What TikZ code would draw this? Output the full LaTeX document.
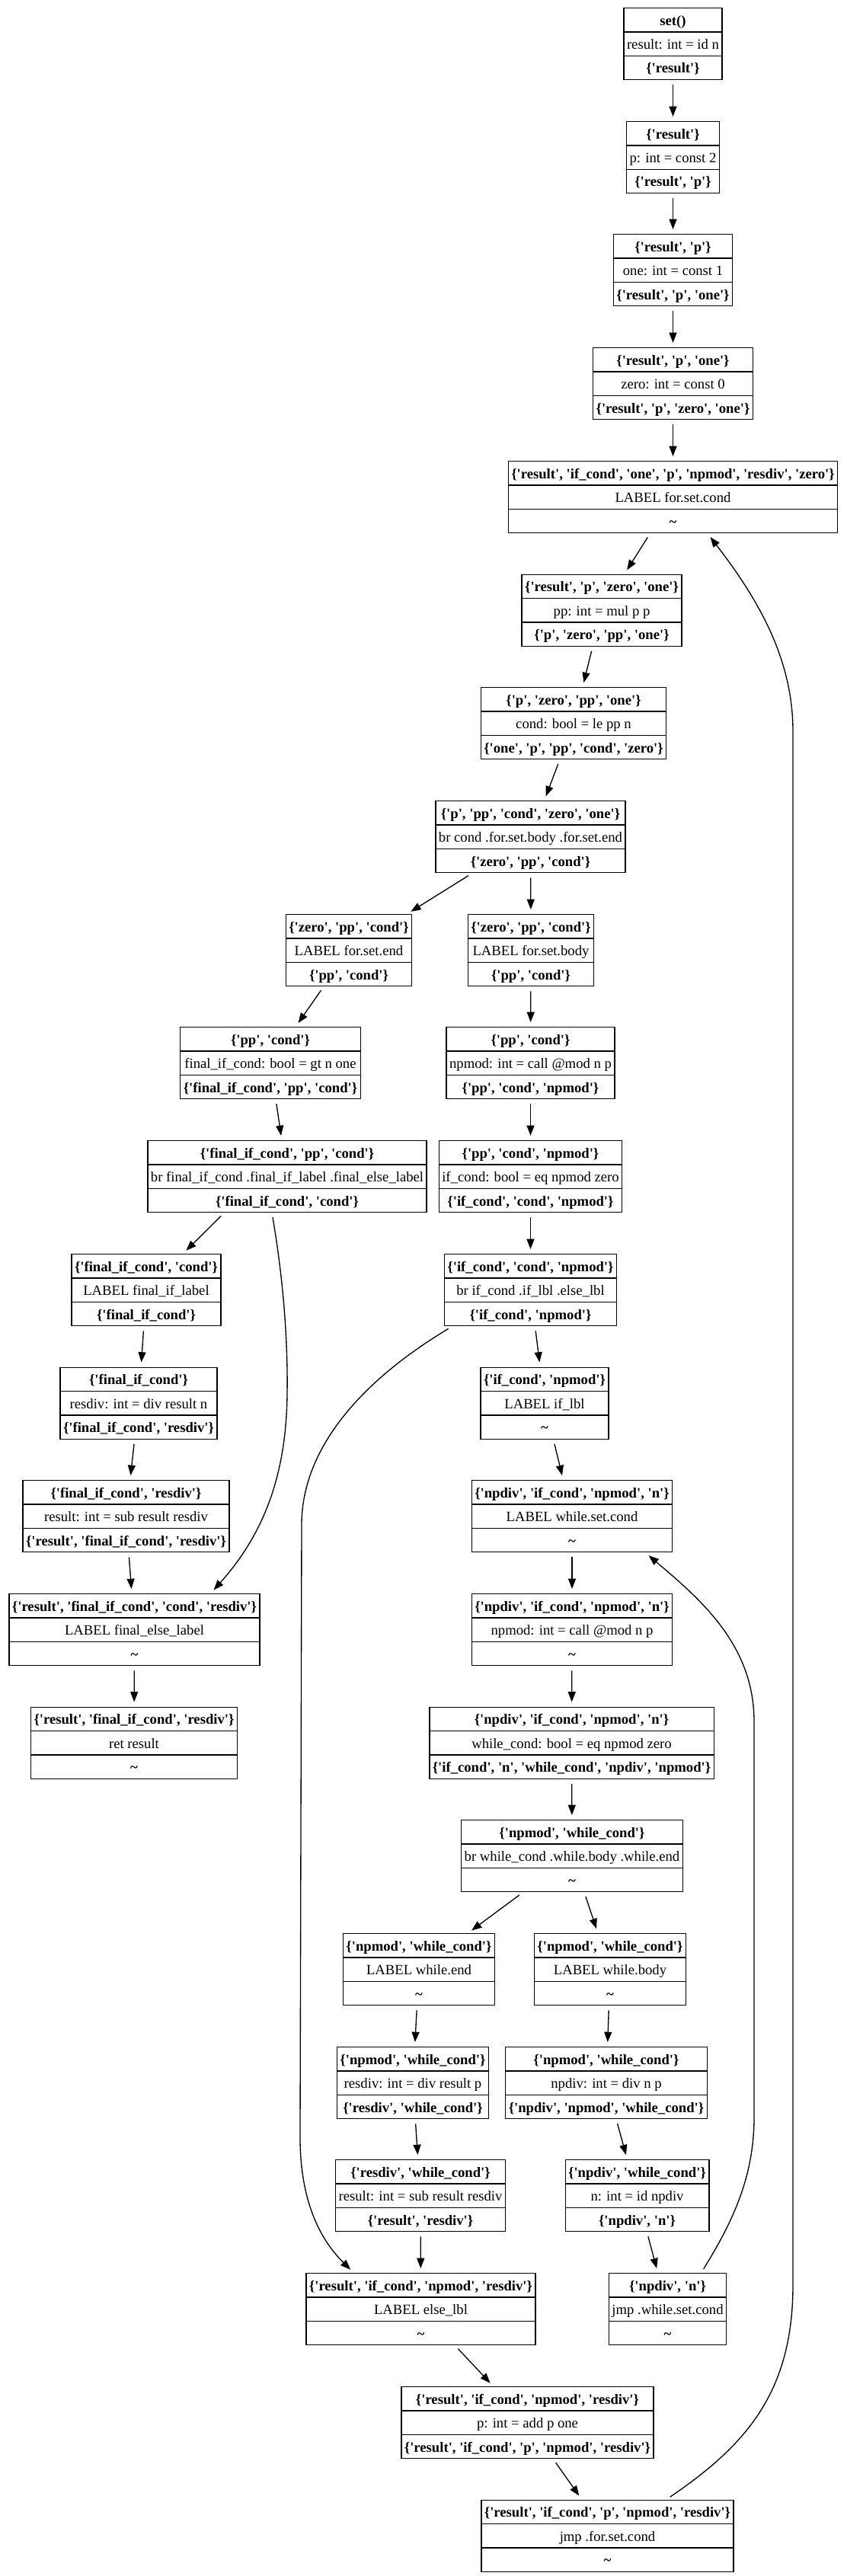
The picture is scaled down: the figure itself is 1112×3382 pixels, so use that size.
\documentclass[tikz,border=0pt]{standalone}
\usepackage{fontspec}
\setmainfont[Ligatures=TeXOff]{Liberation Serif}
\usetikzlibrary{shapes.multipart,arrows.meta}

\newcommand\rowstrut{\rule[-6pt]{0pt}{22.5pt}}
\newcommand\blk[3]{\rowstrut\textbf{#1}\nodepart{two}\rowstrut#2\nodepart{three}\rowstrut\textbf{#3}}
\newcommand\nada{\textasciitilde}

\begin{document}
\begin{tikzpicture}[x=0.75pt, y=-0.75pt,
	stmt/.style={draw, line width=1pt, rectangle split, rectangle split parts=3, inner xsep=3pt, inner ysep=0pt, anchor=north, font=\fontsize{14pt}{16pt}\selectfont},
	link/.style={line width=1pt, -{Triangle[length=10pt, width=7.5pt]}, shorten >=4.5pt, shorten <=4.5pt}]
	\useasboundingbox (0,0) rectangle (1112,3382);

	\node[stmt] (setfn) at (883.5,10) {\blk{set()}{result: int = id n}{\{'result'\}}};
	\node[stmt] (pconst) at (883.5,159) {\blk{\{'result'\}}{p: int = const 2}{\{'result', 'p'\}}};
	\node[stmt] (oneconst) at (883.5,307) {\blk{\{'result', 'p'\}}{one: int = const 1}{\{'result', 'p', 'one'\}}};
	\node[stmt] (zeroconst) at (883.5,456) {\blk{\{'result', 'p', 'one'\}}{zero: int = const 0}{\{'result', 'p', 'zero', 'one'\}}};
	\node[stmt] (forcond) at (883.5,605) {\blk{\{'result', 'if\_cond', 'one', 'p', 'npmod', 'resdiv', 'zero'\}}{LABEL for.set.cond}{\nada}};
	\node[stmt] (ppmul) at (790,753.5) {\blk{\{'result', 'p', 'zero', 'one'\}}{pp: int = mul p p}{\{'p', 'zero', 'pp', 'one'\}}};
	\node[stmt] (condle) at (753,902) {\blk{\{'p', 'zero', 'pp', 'one'\}}{cond: bool = le pp n}{\{'one', 'p', 'pp', 'cond', 'zero'\}}};
	\node[stmt] (brcond) at (696.5,1051) {\blk{\{'p', 'pp', 'cond', 'zero', 'one'\}}{br cond .for.set.body .for.set.end}{\{'zero', 'pp', 'cond'\}}};
	\node[stmt] (forend) at (458,1200) {\blk{\{'zero', 'pp', 'cond'\}}{LABEL for.set.end}{\{'pp', 'cond'\}}};
	\node[stmt] (forbody) at (697,1200) {\blk{\{'zero', 'pp', 'cond'\}}{LABEL for.set.body}{\{'pp', 'cond'\}}};
	\node[stmt] (fingt) at (355,1348) {\blk{\{'pp', 'cond'\}}{final\_if\_cond: bool = gt n one}{\{'final\_if\_cond', 'pp', 'cond'\}}};
	\node[stmt] (npmodcall) at (696.5,1348) {\blk{\{'pp', 'cond'\}}{npmod: int = call @mod n p}{\{'pp', 'cond', 'npmod'\}}};
	\node[stmt] (brfin) at (377,1497) {\blk{\{'final\_if\_cond', 'pp', 'cond'\}}{br final\_if\_cond .final\_if\_label .final\_else\_label}{\{'final\_if\_cond', 'cond'\}}};
	\node[stmt] (ifeq) at (696.5,1497) {\blk{\{'pp', 'cond', 'npmod'\}}{if\_cond: bool = eq npmod zero}{\{'if\_cond', 'cond', 'npmod'\}}};
	\node[stmt] (finlbl) at (192,1646) {\blk{\{'final\_if\_cond', 'cond'\}}{LABEL final\_if\_label}{\{'final\_if\_cond'\}}};
	\node[stmt] (brif) at (696.5,1646) {\blk{\{'if\_cond', 'cond', 'npmod'\}}{br if\_cond .if\_lbl .else\_lbl}{\{'if\_cond', 'npmod'\}}};
	\node[stmt] (resdivn) at (182,1794.5) {\blk{\{'final\_if\_cond'\}}{resdiv: int = div result n}{\{'final\_if\_cond', 'resdiv'\}}};
	\node[stmt] (iflbl) at (715,1794.5) {\blk{\{'if\_cond', 'npmod'\}}{LABEL if\_lbl}{\nada}};
	\node[stmt] (ressub) at (165.5,1943) {\blk{\{'final\_if\_cond', 'resdiv'\}}{result: int = sub result resdiv}{\{'result', 'final\_if\_cond', 'resdiv'\}}};
	\node[stmt] (whilecond) at (751,1943) {\blk{\{'npdiv', 'if\_cond', 'npmod', 'n'\}}{LABEL while.set.cond}{\nada}};
	\node[stmt] (finelse) at (176.5,2092) {\blk{\{'result', 'final\_if\_cond', 'cond', 'resdiv'\}}{LABEL final\_else\_label}{\nada}};
	\node[stmt] (npmodloop) at (751,2092) {\blk{\{'npdiv', 'if\_cond', 'npmod', 'n'\}}{npmod: int = call @mod n p}{\nada}};
	\node[stmt] (ret) at (176,2240.5) {\blk{\{'result', 'final\_if\_cond', 'resdiv'\}}{ret result}{\nada}};
	\node[stmt] (whileeq) at (750.5,2240.5) {\blk{\{'npdiv', 'if\_cond', 'npmod', 'n'\}}{while\_cond: bool = eq npmod zero}{\{'if\_cond', 'n', 'while\_cond', 'npdiv', 'npmod'\}}};
	\node[stmt] (brwhile) at (751,2389) {\blk{\{'npmod', 'while\_cond'\}}{br while\_cond .while.body .while.end}{\nada}};
	\node[stmt] (whileend) at (550,2538) {\blk{\{'npmod', 'while\_cond'\}}{LABEL while.end}{\nada}};
	\node[stmt] (whilebody) at (801,2538) {\blk{\{'npmod', 'while\_cond'\}}{LABEL while.body}{\nada}};
	\node[stmt] (resdivp) at (542,2687) {\blk{\{'npmod', 'while\_cond'\}}{resdiv: int = div result p}{\{'resdiv', 'while\_cond'\}}};
	\node[stmt] (npdiv) at (796,2687) {\blk{\{'npmod', 'while\_cond'\}}{npdiv: int = div n p}{\{'npdiv', 'npmod', 'while\_cond'\}}};
	\node[stmt] (ressubloop) at (552,2835) {\blk{\{'resdiv', 'while\_cond'\}}{result: int = sub result resdiv}{\{'result', 'resdiv'\}}};
	\node[stmt] (nid) at (836.5,2835) {\blk{\{'npdiv', 'while\_cond'\}}{n: int = id npdiv}{\{'npdiv', 'n'\}}};
	\node[stmt] (elselbl) at (552.5,2984) {\blk{\{'result', 'if\_cond', 'npmod', 'resdiv'\}}{LABEL else\_lbl}{\nada}};
	\node[stmt] (jmpwhile) at (876.5,2984) {\blk{\{'npdiv', 'n'\}}{jmp .while.set.cond}{\nada}};
	\node[stmt] (padd) at (692.5,3133) {\blk{\{'result', 'if\_cond', 'npmod', 'resdiv'\}}{p: int = add p one}{\{'result', 'if\_cond', 'p', 'npmod', 'resdiv'\}}};
	\node[stmt] (jmpfor) at (797.5,3281.5) {\blk{\{'result', 'if\_cond', 'p', 'npmod', 'resdiv'\}}{jmp .for.set.cond}{\nada}};

	\draw[link] (setfn) -- (pconst);
	\draw[link] (pconst) -- (oneconst);
	\draw[link] (oneconst) -- (zeroconst);
	\draw[link] (zeroconst) -- (forcond);
	\draw[link] (forcond) -- (ppmul);
	\draw[link] (ppmul) -- (condle);
	\draw[link] (condle) -- (brcond);
	\draw[link] (brcond) -- (forend);
	\draw[link] (brcond) -- (forbody);
	\draw[link] (forend) -- (fingt);
	\draw[link] (forbody) -- (npmodcall);
	\draw[link] (fingt) -- (brfin);
	\draw[link] (npmodcall) -- (ifeq);
	\draw[link] ([xshift=-62pt]brfin.south) -- (finlbl);
	\draw[link] ([xshift=-15pt]brfin.south) .. controls (372,1680) and (378,1760) .. (377,1830)
		.. controls (376,1930) and (350,2010) .. ([xshift=75pt]finelse.north);
	\draw[link] (ifeq) -- (brif);
	\draw[link] (finlbl) -- (resdivn);
	\draw[link] (brif) -- (iflbl);
	\draw[link] ([xshift=-77pt]brif.south) .. controls (476,1812) and (397,1900) .. (396,2000)
		-- (394,2800) .. controls (393,2880) and (415,2935) .. ([xshift=-66pt]elselbl.north);
	\draw[link] (resdivn) -- (ressub);
	\draw[link] (iflbl) -- (whilecond);
	\draw[link] (ressub) -- (finelse);
	\draw[link] (whilecond) -- (npmodloop);
	\draw[link] (finelse) -- (ret);
	\draw[link] (npmodloop) -- (whileeq);
	\draw[link] (whileeq) -- (brwhile);
	\draw[link] (brwhile) -- (whileend);
	\draw[link] (brwhile) -- (whilebody);
	\draw[link] (whileend) -- (resdivp);
	\draw[link] (whilebody) -- (npdiv);
	\draw[link] (resdivp) -- (ressubloop);
	\draw[link] (npdiv) -- (nid);
	\draw[link] (ressubloop) -- (elselbl);
	\draw[link] (nid) -- (jmpwhile);
	\draw[link] ([xshift=33pt]jmpwhile.north) .. controls (960,2920) and (990,2860) .. (990,2780)
		-- (990,2260) .. controls (990,2160) and (920,2100) .. ([xshift=72pt]whilecond.south);
	\draw[link] (elselbl) -- (padd);
	\draw[link] (padd) -- (jmpfor);
	\draw[link] ([xshift=58pt]jmpfor.north) .. controls (980,3210) and (1041,3140) .. (1041,3000)
		-- (1041,960) .. controls (1041,860) and (990,780) .. ([xshift=34pt]forcond.south);
\end{tikzpicture}
\end{document}
